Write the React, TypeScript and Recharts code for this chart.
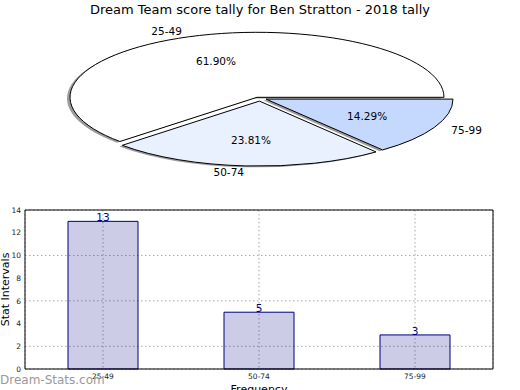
import React from "react";
import {
  PieChart,
  Pie,
  Cell,
  BarChart,
  Bar,
  XAxis,
  YAxis,
  CartesianGrid,
  LabelList,
} from "recharts";

const ranges = ["25-49", "50-74", "75-99"];
const counts = [13, 5, 3];
const sliceColors = ["#ffffff", "#eaf1fe", "#c5d9fe"];
const yTicks = [0, 2, 4, 6, 8, 10, 12, 14];

const pieData = ranges.map((r, i) => ({ name: r, value: counts[i] }));
const barData = ranges.map((r, i) => ({ range: r, count: counts[i] }));

const FONT = "'DejaVu Sans', sans-serif";

// the pie is drawn round and squashed into an ellipse
const R = 187;
const SQ = 65 / 187;
// exploded centre of each wedge (unsquashed px)
const centres = [
  { x: 257, y: 97.3 / SQ },
  { x: 259.4, y: 101.1 / SQ },
  { x: 266, y: 99.1 / SQ },
];
const SHADOW = { dx: -3, dy: 3.5 };

// labels end up outside the squashed layer, so place them in screen px
function wedgeLabel(visible: number) {
  return (p: any) => {
    if (p.index !== visible) return null;
    const rad = (p.midAngle * Math.PI) / 180;
    const cos = Math.cos(rad);
    const sin = Math.sin(rad);
    const lx = p.cx + 1.1 * R * cos;
    const ly = (p.cy - 1.1 * R * sin) * SQ;
    const px = p.cx + 0.6 * R * cos;
    const py = (p.cy - 0.6 * R * sin) * SQ;
    return (
      <g key={`lbl-${visible}`}>
        <text
          x={lx}
          y={ly}
          textAnchor={cos > 0 ? "start" : "end"}
          dominantBaseline="central"
          fontSize={10.5}
          fontFamily={FONT}
          fill="#000"
        >
          {ranges[p.index]}
        </text>
        <text
          x={px}
          y={py}
          textAnchor="middle"
          dominantBaseline="central"
          fontSize={10.5}
          fontFamily={FONT}
          fill="#000"
        >
          {(p.percent * 100).toFixed(2)}%
        </text>
      </g>
    );
  };
}

const yLabel = (props: any) => {
  const vb = props.viewBox;
  const x = vb.x + 5;
  const y = vb.y + vb.height / 2;
  return (
    <text
      x={x}
      y={y}
      transform={`rotate(-90, ${x}, ${y})`}
      textAnchor="middle"
      dominantBaseline="central"
      fontSize={11}
      fontFamily={FONT}
      fill="#000"
    >
      Stat Intervals
    </text>
  );
};

const xLabel = (props: any) => {
  const vb = props.viewBox;
  return (
    <text
      x={vb.x + vb.width / 2}
      y={vb.y + 24}
      textAnchor="middle"
      fontSize={11}
      fontFamily={FONT}
      fill="#000"
    >
      Frequency
    </text>
  );
};

export default function App() {
  return (
    <div
      style={{
        position: "absolute",
        left: 0,
        top: 0,
        width: 520,
        height: 390,
        overflow: "hidden",
        background: "#fff",
        fontFamily: FONT,
      }}
    >
      <style>{`
        .pie-wrap .recharts-pie { transform: scale(1, ${SQ}); }
        .pie-wrap .recharts-pie path { vector-effect: non-scaling-stroke; }
      `}</style>

      <div
        style={{
          position: "absolute",
          top: 2,
          left: 0,
          width: 520,
          textAlign: "center",
          fontSize: 13,
          lineHeight: "16px",
          color: "#000",
        }}
      >
        Dream Team score tally for Ben Stratton - 2018 tally
      </div>

      <div className="pie-wrap" style={{ position: "absolute", left: 0, top: 0 }}>
        <PieChart width={520} height={200} margin={{ top: 0, right: 0, bottom: 0, left: 0 }}>
          {ranges.map((_, i) => [
            <Pie
              key={`shadow-${i}`}
              data={pieData}
              dataKey="value"
              cx={centres[i].x + SHADOW.dx}
              cy={centres[i].y + SHADOW.dy}
              outerRadius={R}
              startAngle={0}
              endAngle={360}
              isAnimationActive={false}
              labelLine={false}
              label={false}
            >
              {pieData.map((_, j) => (
                <Cell key={j} fill={j === i ? "#9c9c9c" : "none"} stroke="none" />
              ))}
            </Pie>,
            <Pie
              key={`wedge-${i}`}
              data={pieData}
              dataKey="value"
              cx={centres[i].x}
              cy={centres[i].y}
              outerRadius={R}
              startAngle={0}
              endAngle={360}
              isAnimationActive={false}
              labelLine={false}
              label={wedgeLabel(i)}
            >
              {pieData.map((_, j) => (
                <Cell
                  key={j}
                  fill={j === i ? sliceColors[j] : "none"}
                  stroke={j === i ? "#000" : "none"}
                  strokeWidth={1}
                />
              ))}
            </Pie>,
          ])}
        </PieChart>
      </div>

      <div style={{ position: "absolute", left: 0, top: 200 }}>
        <BarChart
          width={520}
          height={190}
          data={barData}
          margin={{ top: 0, right: 0, bottom: 0, left: 0 }}
          barSize={70}
        >
          <CartesianGrid stroke="#a8a8a8" strokeDasharray="1.5 2.5" />
          <XAxis
            dataKey="range"
            height={21}
            tickLine={false}
            tickSize={0}
            tickMargin={5}
            axisLine={{ stroke: "#000" }}
            tick={{ fontSize: 7.5, fill: "#222", fontFamily: FONT }}
            label={xLabel}
          />
          <XAxis
            xAxisId="top"
            dataKey="range"
            orientation="top"
            height={10}
            tick={false}
            tickLine={false}
            axisLine={{ stroke: "#000" }}
          />
          <YAxis
            width={25}
            domain={[0, 14]}
            ticks={yTicks}
            tickLine={false}
            tickSize={0}
            tickMargin={4}
            axisLine={{ stroke: "#000" }}
            tick={{ fontSize: 7.5, fill: "#222", fontFamily: FONT }}
            label={yLabel}
          />
          <YAxis
            yAxisId="right"
            orientation="right"
            width={27}
            domain={[0, 14]}
            ticks={yTicks}
            tick={false}
            tickLine={false}
            axisLine={{ stroke: "#000" }}
          />
          <Bar
            dataKey="count"
            fill="#000080"
            fillOpacity={0.2}
            stroke="#000080"
            strokeWidth={1}
            isAnimationActive={false}
          >
            <LabelList
              dataKey="count"
              position="top"
              offset={0}
              fill="#00008b"
              fontSize={10.5}
              fontFamily={FONT}
            />
          </Bar>
        </BarChart>
      </div>

      <div
        style={{
          position: "absolute",
          left: 0,
          top: 373,
          fontSize: 12,
          lineHeight: "14px",
          color: "#999",
        }}
      >
        Dream-Stats.com
      </div>
    </div>
  );
}
